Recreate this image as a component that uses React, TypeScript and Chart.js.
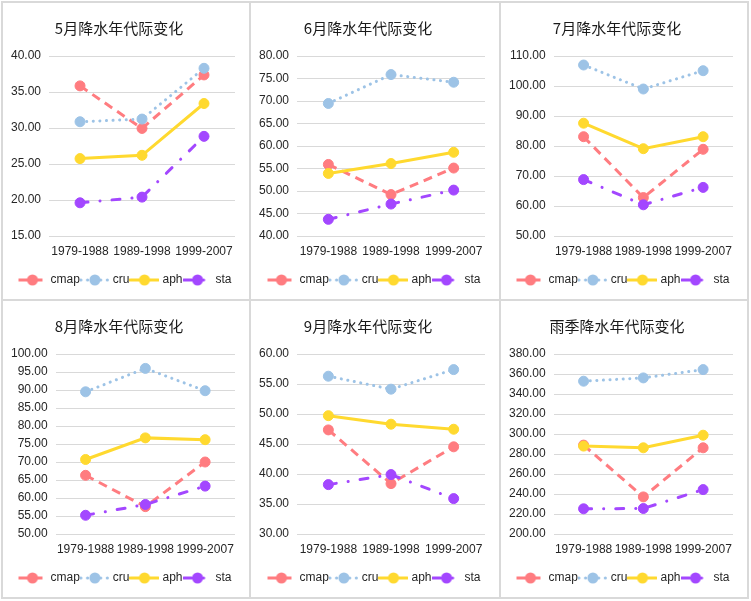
import React, { useEffect, useRef } from 'react';
import { Chart, registerables } from 'chart.js';

Chart.register(...registerables);

const categories = ['1979-1988', '1989-1998', '1999-2007'];
const seriesNames = ['cmap', 'cru', 'aph', 'sta'];
const panelTitles = [
  '5月降水年代际变化',
  '6月降水年代际变化',
  '7月降水年代际变化',
  '8月降水年代际变化',
  '9月降水年代际变化',
  '雨季降水年代际变化',
];

const mayCmap = [35.85, 29.94, 37.37];
const mayCru = [30.87, 31.24, 38.29];
const mayAph = [25.75, 26.21, 33.4];
const maySta = [19.61, 20.4, 28.84];

const junCmap = [55.9, 49.2, 55.1];
const junCru = [69.45, 75.87, 74.17];
const junAph = [53.9, 56.1, 58.6];
const junSta = [43.7, 47.1, 50.2];

const julCmap = [83.1, 62.8, 78.9];
const julCru = [107.0, 99.0, 105.1];
const julAph = [87.6, 79.1, 83.1];
const julSta = [68.8, 60.4, 66.2];

const augCmap = [66.3, 57.6, 70.0];
const augCru = [89.5, 96.0, 89.8];
const augAph = [70.7, 76.7, 76.2];
const augSta = [55.2, 58.2, 63.3];

const sepCmap = [47.35, 38.4, 44.53];
const sepCru = [56.3, 54.14, 57.4];
const sepAph = [49.72, 48.3, 47.46];
const sepSta = [38.23, 39.9, 35.9];

const rainCmap = [288.9, 237.1, 286.2];
const rainCru = [352.8, 356.1, 364.4];
const rainAph = [287.9, 286.2, 298.8];
const rainSta = [225.2, 225.5, 244.4];

const yMins = [15, 40, 50, 50, 30, 200];
const yMaxs = [40, 80, 110, 100, 60, 380];
const ySteps = [5, 5, 10, 5, 5, 20];

const panelData = [
  [mayCmap, mayCru, mayAph, maySta],
  [junCmap, junCru, junAph, junSta],
  [julCmap, julCru, julAph, julSta],
  [augCmap, augCru, augAph, augSta],
  [sepCmap, sepCru, sepAph, sepSta],
  [rainCmap, rainCru, rainAph, rainSta],
];

const seriesColors = ['#FF7C80', '#9DC3E6', '#FFD92F', '#A347FF'];
const seriesDashes: number[][] = [[9, 6], [0.1, 6.5], [], [8, 12, 0.1, 12]];
const seriesCaps: CanvasLineCap[] = ['butt', 'round', 'round', 'round'];

const xEdges = [2, 250, 500, 748];
const yEdges = [2, 300, 598];

function makeLegendIcon(color: string, dash: number[], cap: CanvasLineCap) {
  const c = document.createElement('canvas');
  c.width = 30;
  c.height = 12;
  const ctx = c.getContext('2d')!;
  ctx.strokeStyle = color;
  ctx.lineWidth = 3;
  ctx.lineCap = cap;
  ctx.setLineDash(dash);
  ctx.beginPath();
  ctx.moveTo(1, 6);
  ctx.lineTo(29, 6);
  ctx.stroke();
  ctx.setLineDash([]);
  ctx.fillStyle = color;
  ctx.beginPath();
  ctx.arc(15, 6, 5.5, 0, Math.PI * 2);
  ctx.fill();
  return c;
}

const legendFullWidth = {
  id: 'legendFullWidth',
  afterLayout(chart: any) {
    const lg = chart.legend;
    if (lg) {
      lg.left = 0;
      lg.right = chart.width;
      lg.width = chart.width;
    }
  },
};

function Panel({ index, width, height }: { index: number; width: number; height: number }) {
  const ref = useRef<HTMLCanvasElement | null>(null);
  useEffect(() => {
    if (!ref.current) return;
    const icons = seriesNames.map((_, i) => makeLegendIcon(seriesColors[i], seriesDashes[i], seriesCaps[i]));
    const chart = new Chart(ref.current, {
      type: 'line',
      data: {
        labels: categories,
        datasets: seriesNames.map((name, i) => ({
          label: name,
          data: panelData[index][i],
          borderColor: seriesColors[i],
          backgroundColor: seriesColors[i],
          borderWidth: 3,
          borderDash: seriesDashes[i],
          borderCapStyle: seriesCaps[i],
          pointRadius: 5,
          pointBackgroundColor: seriesColors[i],
          pointBorderColor: seriesColors[i],
          pointBorderWidth: 1,
          tension: 0,
          fill: false,
          order: seriesNames.length - i,
        })),
      },
      plugins: [legendFullWidth],
      options: {
        responsive: false,
        animation: false,
        layout: { padding: { left: 0, right: 14, top: 0, bottom: 3 } },
        plugins: {
          tooltip: { enabled: false },
          title: {
            display: true,
            text: panelTitles[index],
            color: '#1a1a1a',
            font: { family: '"Noto Sans CJK SC", "Noto Sans", sans-serif', size: 15, weight: 'normal' },
            padding: { top: 16, bottom: 19 },
          },
          legend: {
            display: true,
            position: 'bottom',
            labels: {
              usePointStyle: true,
              pointStyleWidth: 24,
              boxHeight: 12,
              padding: 3,
              color: '#262626',
              font: { family: '"Liberation Sans", Arial, sans-serif', size: 12 },
              sort: (a: any, b: any) => a.datasetIndex - b.datasetIndex,
              generateLabels: (ch: any) => {
                const items = Chart.defaults.plugins.legend.labels.generateLabels(ch);
                return items.map((it: any) => ({ ...it, pointStyle: icons[it.datasetIndex] }));
              },
            },
          },
        },
        scales: {
          x: {
            grid: { display: false, drawTicks: false },
            border: { display: false },
            offset: true,
            ticks: {
              padding: 8,
              color: '#262626',
              font: { family: '"Liberation Sans", Arial, sans-serif', size: 12 },
              maxRotation: 0,
              autoSkip: false,
            },
            afterFit: (scale: any) => {
              scale.height = 35;
            },
          },
          y: {
            min: yMins[index],
            max: yMaxs[index],
            grid: { color: '#d9d9d9', lineWidth: 1, drawTicks: false },
            border: { display: false },
            ticks: {
              stepSize: ySteps[index],
              padding: 8,
              color: '#262626',
              font: { family: '"Liberation Sans", Arial, sans-serif', size: 12 },
              callback: (v: any) => Number(v).toFixed(2),
            },
          },
        },
      },
    });
    return () => chart.destroy();
  }, [index]);
  return <canvas ref={ref} width={width} height={height} style={{ display: 'block', width, height }} />;
}

export default function App() {
  const panels: React.ReactNode[] = [];
  for (let r = 0; r < 2; r++) {
    for (let c = 0; c < 3; c++) {
      const idx = r * 3 + c;
      const left = xEdges[c];
      const top = yEdges[r];
      const w = xEdges[c + 1] - xEdges[c];
      const h = yEdges[r + 1] - yEdges[r];
      panels.push(
        <div
          key={idx}
          style={{
            position: 'absolute',
            left,
            top,
            width: w,
            height: h,
            boxSizing: 'border-box',
            border: '1px solid #d9d9d9',
            background: '#fff',
          }}
        >
          <Panel index={idx} width={w - 2} height={h - 2} />
        </div>
      );
    }
  }
  return (
    <div
      style={{
        position: 'absolute',
        left: 0,
        top: 0,
        width: 751,
        height: 601,
        background: '#fff',
        overflow: 'hidden',
      }}
    >
      <div
        style={{
          position: 'absolute',
          left: 1,
          top: 1,
          width: 748,
          height: 598,
          boxSizing: 'border-box',
          border: '1px solid #d9d9d9',
        }}
      />
      {panels}
    </div>
  );
}
